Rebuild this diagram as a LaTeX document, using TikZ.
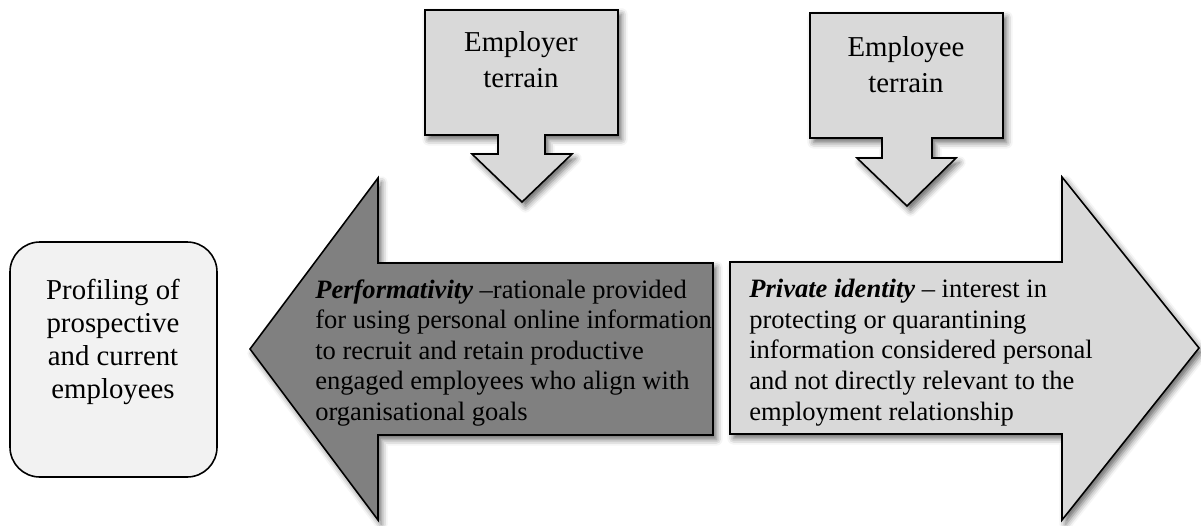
\documentclass[tikz,border=0pt]{standalone}
\usepackage{fontspec}
\setmainfont{Liberation Serif}
\usepackage{tikz}
\usetikzlibrary{
    shadows.blur
}
\tikzset{
  soft/.style     = {blur shadow={shadow xshift=2pt, shadow yshift=-2.5pt,
                     shadow blur radius=3.5pt, shadow opacity=60}},
  callout/.style  = {draw, line width=0.9pt, fill=LightGrey, soft},
  bigarrow/.style = {draw, line width=0.9pt, soft},
  arrowtext/.style= {inner sep=0pt, align=left,
                     font={\fontsize{15.1}{17.4}\selectfont}},
  terrain/.style  = {inner sep=0pt, align=center,
                     font={\fontsize{16.4}{20.7}\selectfont}},
  boxtext/.style  = {inner sep=0pt, align=center,
                     font={\fontsize{16.4}{18.7}\selectfont}}
}
\definecolor{LightGrey}{RGB}{217,217,217}
\definecolor{DarkGrey}{RGB}{128,128,128}
\definecolor{PaleGrey}{RGB}{242,242,242}

\begin{document}
\begin{tikzpicture}[x=0.02cm, y=-0.02cm]
\useasboundingbox (0,0) rectangle (1201,525);
% profiling box on the left
\draw[line width=0.9pt, fill=PaleGrey, rounded corners=17pt] (10,242) rectangle (217,477);
\node[boxtext, anchor=north] (prof) at (113,279) {Profiling of\\ prospective\\ and current\\ employees};
% the two terrain callouts
\draw[callout] (425,10) -- (618,10) -- (618,135) -- (545,135) -- (545,154) -- (572,154)
  -- (522,202) -- (472,154) -- (498,154) -- (498,135) -- (425,135) -- cycle;
\node[terrain, anchor=north] (employer) at (521,31) {Employer\\ terrain};
\draw[callout] (810,13) -- (1003,13) -- (1003,138) -- (932,138) -- (932,158) -- (956,158)
  -- (907,206) -- (857,158) -- (882,158) -- (882,138) -- (810,138) -- cycle;
\node[terrain, anchor=north] (employee) at (906,36) {Employee\\ terrain};
% big left / right arrows
\draw[bigarrow, fill=DarkGrey] (250,349) -- (378,178) -- (378,263) -- (713,263)
  -- (713,435) -- (378,435) -- (378,520) -- cycle;
\draw[bigarrow, fill=LightGrey] (730,262) -- (1062,262) -- (1062,177) -- (1199,348)
  -- (1062,520) -- (1062,434) -- (730,434) -- cycle;
\node[arrowtext, anchor=north west] (perf) at (315,279)
  {\textbf{\textit{Performativity}} --rationale provided\\
   for using personal online information\\
   to recruit and retain productive\\
   engaged employees who align with\\
   organisational goals};
\node[arrowtext, anchor=north west] (priv) at (749,279)
  {\textbf{\textit{Private identity}} -- interest in\\
   protecting or quarantining\\
   information considered personal\\
   and not directly relevant to the\\
   employment relationship};
\end{tikzpicture}
\end{document}
